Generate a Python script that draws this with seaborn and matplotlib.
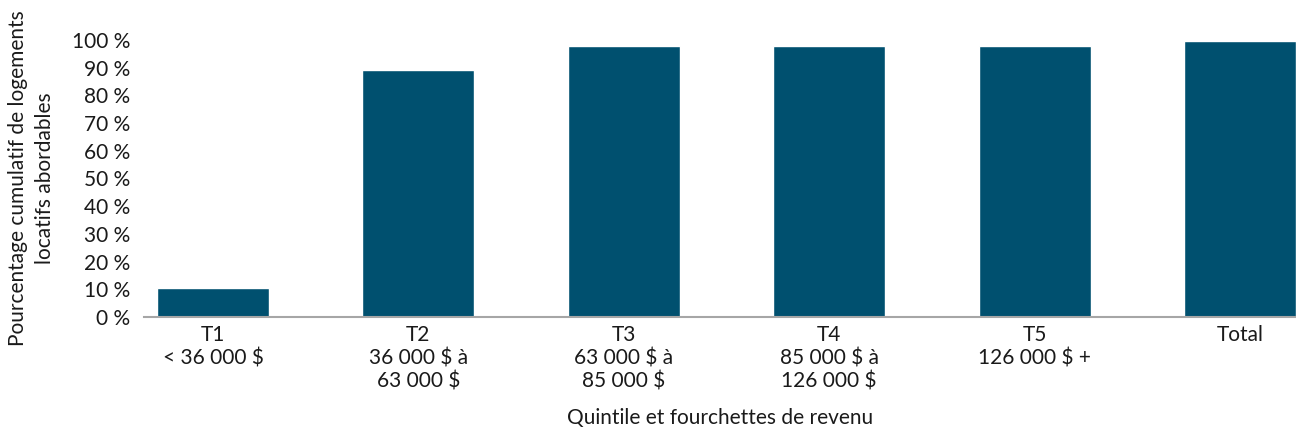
import matplotlib
matplotlib.use("Agg")
import matplotlib.pyplot as plt
import seaborn as sns
import pandas as pd

categories = ["T1\n< 36 000 $", "T2\n36 000 $ à\n63 000 $", "T3\n63 000 $ à\n85 000 $",
              "T4\n85 000 $ à\n126 000 $", "T5\n126 000 $ +", "Total"]
values = [10.5, 89.2, 97.8, 97.8, 97.8, 99.6]
yticks = [0, 10, 20, 30, 40, 50, 60, 70, 80, 90, 100]
ytick_labels = [f"{v} %" for v in yticks]

sns.set_style("white")
plt.rcParams['font.family'] = ['Lato', 'DejaVu Sans']

df = pd.DataFrame({"cat": categories, "val": values})

FS = 15
fig = plt.figure(figsize=(12.96, 4.33), dpi=100)
ax = fig.add_axes([144/1296, (433-317)/433, 1 - 144/1296, (317-40)/433])
sns.barplot(data=df, x="cat", y="val", color="#00506F", saturation=1, width=0.545, ax=ax)

ax.set_xlim(-0.336, 5.273)
ax.set_ylim(0, 100)
ax.set_yticks(yticks)
ax.set_yticklabels(ytick_labels, fontsize=FS, color="#1a1a1a")
ax.tick_params(axis="x", labelsize=FS, colors="#1a1a1a", length=0, pad=6)
ax.tick_params(axis="y", length=0, pad=10)
for lbl in ax.get_xticklabels():
    lbl.set_linespacing(1.2)

for s in ["top", "right", "left"]:
    ax.spines[s].set_visible(False)
ax.spines["bottom"].set_color("#a6a6a6")
ax.spines["bottom"].set_linewidth(1.5)

ax.set_xlabel("Quintile et fourchettes de revenu", fontsize=FS, color="#1a1a1a", labelpad=12)
ax.set_ylabel("Pourcentage cumulatif de logements\nlocatifs abordables", fontsize=FS,
              color="#1a1a1a", labelpad=12, linespacing=1.45)

fig.savefig("out.png", dpi=100)
